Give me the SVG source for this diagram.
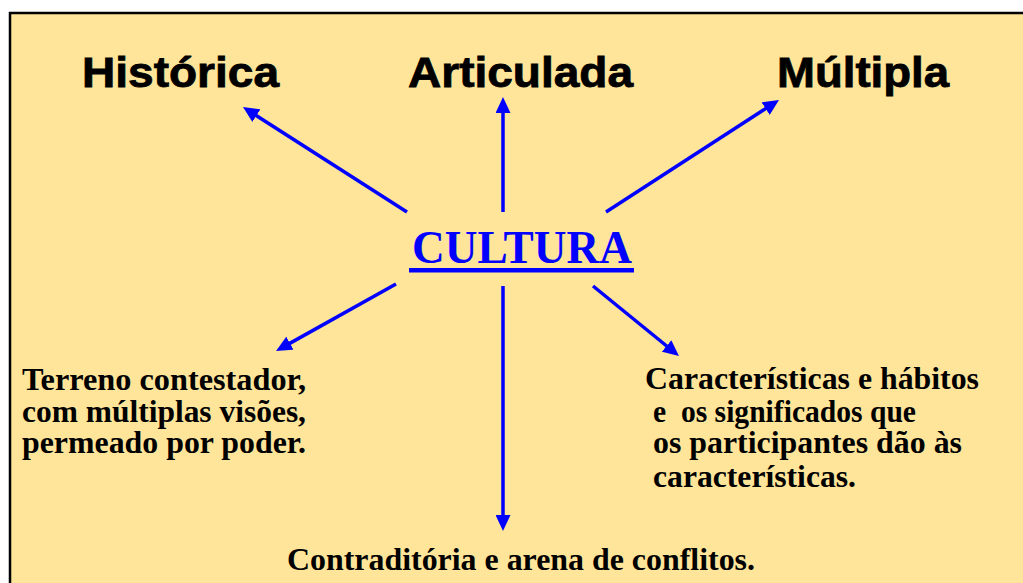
<svg xmlns="http://www.w3.org/2000/svg" width="1023" height="583" viewBox="0 0 1023 583">
<style>
.top{font-family:"Liberation Sans",Arial,sans-serif;font-weight:bold;font-size:42px;fill:#000;stroke:#000;stroke-width:0.8}
.body{font-family:"Liberation Serif","Times New Roman",serif;font-weight:bold;font-size:31.5px;fill:#000}
.arrow{stroke:#0000FF;stroke-width:3.5;fill:none;marker-end:url(#ah)}
</style>
<defs>
<marker id="ah" markerUnits="userSpaceOnUse" markerWidth="16" markerHeight="15" refX="8" refY="7.5" orient="auto">
<path d="M0,0 L16,7.5 L0,15 z" fill="#0000FF"/>
</marker>
</defs>
<rect x="0" y="0" width="1023" height="583" fill="#FFFFFF"/>
<rect x="10" y="13" width="1020" height="580" fill="#FFE599" stroke="#000" stroke-width="2.5"/>
<g id="historica"><text class="top" x="82" y="87" textLength="197" lengthAdjust="spacingAndGlyphs">Histórica</text></g>
<g id="articulada"><text class="top" x="408" y="87" textLength="225" lengthAdjust="spacingAndGlyphs">Articulada</text></g>
<g id="multipla"><text class="top" x="777" y="87" textLength="172" lengthAdjust="spacingAndGlyphs">Múltipla</text></g>
<g id="cultura">
<text x="412" y="263" font-family="'Liberation Serif','Times New Roman',serif" font-weight="bold" font-size="46" fill="#0000FF" textLength="220" lengthAdjust="spacingAndGlyphs">CULTURA</text>
<rect x="409" y="268" width="225" height="4.5" fill="#0000FF"/>
</g>
<g id="terreno">
<text class="body" x="22" y="390" textLength="284" lengthAdjust="spacingAndGlyphs">Terreno contestador,</text>
<text class="body" x="22" y="422" textLength="284" lengthAdjust="spacingAndGlyphs">com múltiplas visões,</text>
<text class="body" x="22" y="453" textLength="284" lengthAdjust="spacingAndGlyphs">permeado por poder.</text>
</g>
<g id="caracteristicas">
<text class="body" x="645" y="389" textLength="334" lengthAdjust="spacingAndGlyphs">Características e hábitos</text>
<text class="body" x="653" y="422" textLength="263" lengthAdjust="spacingAndGlyphs" xml:space="preserve">e  os significados que</text>
<text class="body" x="653" y="453" textLength="309" lengthAdjust="spacingAndGlyphs">os participantes dão às</text>
<text class="body" x="653" y="487" textLength="203" lengthAdjust="spacingAndGlyphs">características.</text>
</g>
<g id="contraditoria"><text class="body" x="287" y="570" textLength="468" lengthAdjust="spacingAndGlyphs">Contraditória e arena de conflitos.</text></g>
<g id="connectors">
<line class="arrow" x1="407" y1="212" x2="249.7" y2="111.3"/>
<line class="arrow" x1="503" y1="212" x2="503" y2="105"/>
<line class="arrow" x1="606" y1="212" x2="772.3" y2="104.3"/>
<line class="arrow" x1="396" y1="284" x2="283" y2="347.1"/>
<line class="arrow" x1="503" y1="286" x2="503" y2="523"/>
<line class="arrow" x1="593" y1="286" x2="672.8" y2="351"/>
</g>
</svg>
